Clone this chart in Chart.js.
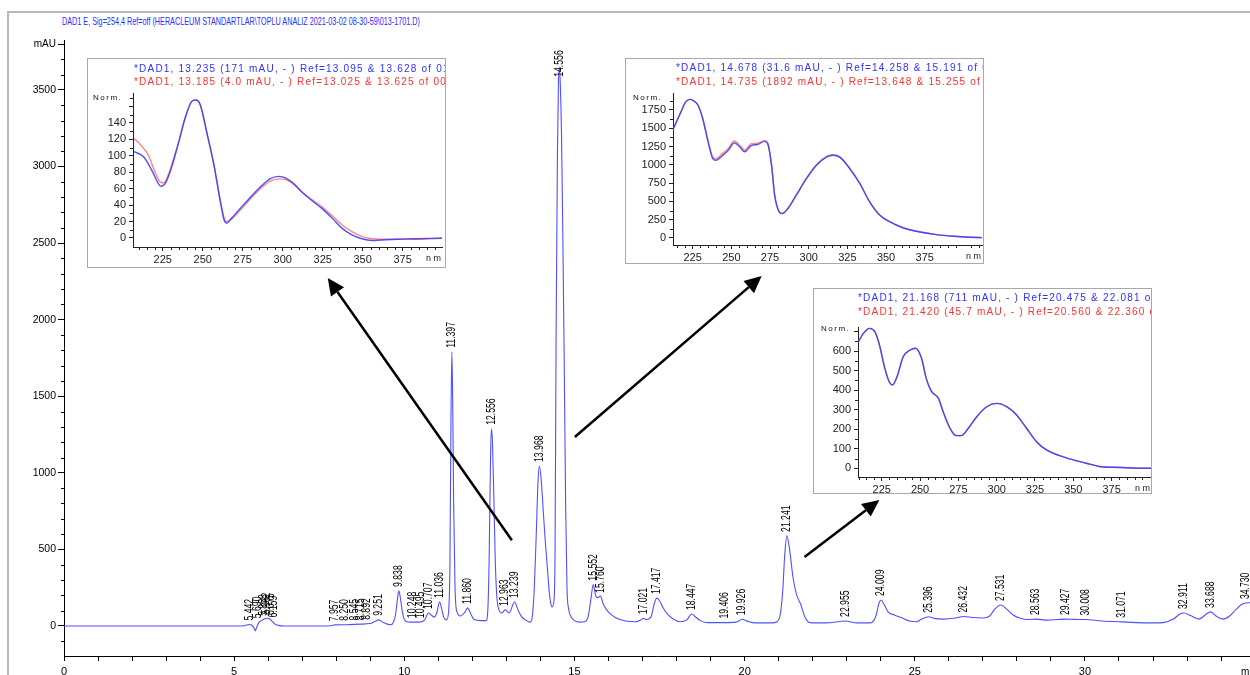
<!DOCTYPE html>
<html>
<head>
<meta charset="utf-8">
<script src="https://cdn.jsdelivr.net/npm/chart.js@4.4.1/dist/chart.umd.min.js"></script>
<style>
  html, body { margin: 0; padding: 0; background: #fff; }
  #wrap { position: relative; width: 1250px; height: 675px; overflow: hidden; font-family: "Liberation Sans", Arial, sans-serif; }
  #frame { position: absolute; left: 7px; top: 11px; width: 1260px; height: 680px; border-left: 2px solid #b8b8b8; border-top: 2px solid #b8b8b8; }
  #title { position: absolute; left: 62px; top: 15px; font-size: 11px; line-height: 12px; color: #2b2bff; white-space: nowrap; transform-origin: 0 0; }
  #main { position: absolute; left: 0; top: 0; }
  .inset { position: absolute; background: #fff; border: 1px solid #a8a8a8; overflow: hidden; }
  .inset canvas { position: absolute; left: 0; top: 0; }
  .spec { position: absolute; font-size: 10px; line-height: 12px; letter-spacing: 1.2px; white-space: nowrap; }
  .blue { color: #3030ff; }
  .red { color: #ff3030; }
  .norm { position: absolute; font-size: 8px; line-height: 10px; letter-spacing: 1.5px; color: #111; }
</style>
</head>
<body>
<div id="wrap">
  <div id="frame"></div>
  <div id="title">DAD1 E, Sig=254,4 Ref=off (HERACLEUM STANDARTLAR\TOPLU ANALIZ 2021-03-02 08-30-59\013-1701.D)</div>
  <canvas id="main" width="1250" height="675"></canvas>

  <div class="inset" style="left:87px; top:58px; width:357px; height:208px;">
    <canvas id="spec1" width="357" height="208"></canvas>
    <div class="spec blue" style="left:46px; top:4px;">*DAD1, 13.235 (171 mAU, - ) Ref=13.095 &amp; 13.628 of 01</div>
    <div class="spec red" style="left:46px; top:17px;">*DAD1, 13.185 (4.0 mAU, - ) Ref=13.025 &amp; 13.625 of 00</div>
    <div class="norm" style="left:5px; top:34px;">Norm.</div>
  </div>

  <div class="inset" style="left:625px; top:58px; width:357px; height:204px;">
    <canvas id="spec2" width="357" height="204"></canvas>
    <div class="spec blue" style="left:50px; top:3px;">*DAD1, 14.678 (31.6 mAU, - ) Ref=14.258 &amp; 15.191 of 00</div>
    <div class="spec red" style="left:50px; top:17px;">*DAD1, 14.735 (1892 mAU, - ) Ref=13.648 &amp; 15.255 of 00</div>
    <div class="norm" style="left:7px; top:34px;">Norm.</div>
  </div>

  <div class="inset" style="left:813px; top:288px; width:337px; height:204px;">
    <canvas id="spec3" width="337" height="204"></canvas>
    <div class="spec blue" style="left:44px; top:3px;">*DAD1, 21.168 (711 mAU, - ) Ref=20.475 &amp; 22.081 of 01</div>
    <div class="spec red" style="left:44px; top:17px;">*DAD1, 21.420 (45.7 mAU, - ) Ref=20.560 &amp; 22.360 of 00</div>
    <div class="norm" style="left:7px; top:35px;">Norm.</div>
  </div>
</div>

<script>
// chromatogram, retention time (min) and signal (mAU)
const rtMin = [0, 5.0, 5.3, 5.442, 5.52, 5.58, 5.62, 5.66, 5.72, 5.80, 5.88, 5.96, 6.05, 6.12, 6.20, 6.30, 6.45,
  7.0, 7.85, 7.95, 8.3, 8.7, 9.0, 9.12, 9.251, 9.38, 9.50, 9.60, 9.68, 9.74, 9.79, 9.838, 9.88, 9.93, 9.98,
  10.05, 10.2, 10.45, 10.6, 10.707, 10.80, 10.88, 10.96, 11.036, 11.10, 11.16, 11.24, 11.30, 11.34, 11.37,
  11.397, 11.42, 11.45, 11.49, 11.55, 11.65, 11.78, 11.860, 11.95, 12.05, 12.25, 12.40, 12.45, 12.49, 12.53,
  12.556, 12.59, 12.63, 12.67, 12.71, 12.76, 12.87, 12.963, 13.08, 13.239, 13.35, 13.45, 13.56, 13.70, 13.76,
  13.82, 13.88, 13.93, 13.968, 14.02, 14.08, 14.14, 14.20, 14.26, 14.31, 14.34, 14.40, 14.43, 14.46, 14.50,
  14.53, 14.556, 14.58, 14.62, 14.66, 14.70, 14.74, 14.78, 14.83, 14.90, 15.00, 15.15, 15.30, 15.40, 15.48,
  15.552, 15.62, 15.68, 15.760, 15.85, 16.00, 16.20, 16.50, 16.80, 16.95, 17.021, 17.12, 17.25, 17.35, 17.417,
  17.50, 17.60, 17.72, 17.90, 18.10, 18.30, 18.447, 18.55, 18.70, 18.90, 19.406, 19.75, 19.926, 20.10, 20.30,
  20.80, 20.95, 21.05, 21.12, 21.18, 21.241, 21.32, 21.42, 21.52, 21.65, 21.78, 21.92, 22.4, 22.955, 23.3,
  23.7, 23.85, 23.95, 24.009, 24.10, 24.22, 24.40, 24.60, 24.85, 25.05, 25.20, 25.396, 25.60, 25.85, 26.20,
  26.432, 26.70, 27.00, 27.20, 27.35, 27.531, 27.70, 27.90, 28.10, 28.30, 28.563, 28.90, 29.20, 29.427, 29.70,
  30.008, 30.50, 31.071, 31.50, 32.00, 32.30, 32.60, 32.80, 32.911, 33.10, 33.35, 33.55, 33.688, 33.85, 34.05,
  34.25, 34.45, 34.60, 34.730, 34.85];
const signal = [0, 0, 2, 10, 5, -12, -30, -10, 20, 35, 45, 50, 45, 30, 12, 4, 0,
  0, 2, 7, 8, 12, 16, 28, 40, 22, 12, 8, 25, 70, 160, 229, 190, 110, 55,
  30, 25, 25, 40, 85, 70, 58, 90, 157, 110, 55, 40, 90, 400, 1300,
  1790, 1500, 800, 250, 90, 65, 90, 118, 80, 42, 35, 35, 90, 400, 1050,
  1287, 1200, 850, 450, 220, 120, 85, 105, 85, 157, 100, 60, 40, 25, 60,
  250, 620, 950, 1045, 960, 760, 560, 390, 220, 140, 125, 170, 500, 1900, 3100,
  3560, 3650, 3560, 3200, 2500, 1700, 800, 250, 110, 60, 35, 25, 28, 60, 170,
  270, 200, 185, 195, 140, 90, 55, 32, 28, 40, 50, 42, 60, 150, 182,
  165, 120, 80, 45, 28, 40, 78, 60, 35, 22, 22, 25, 44, 30, 20,
  20, 28, 80, 230, 470, 588, 500, 320, 210, 140, 55, 22, 20, 33, 20,
  20, 60, 150, 170, 140, 90, 72, 55, 32, 28, 45, 60, 48, 45, 52,
  62, 55, 52, 65, 110, 137, 110, 70, 50, 42, 45, 38, 42, 45, 43,
  42, 33, 27, 22, 20, 22, 45, 80, 85, 68, 45, 75, 92, 65, 45,
  65, 110, 140, 150, 152];

// retention time labels and the signal level they sit on
const peakLabels = ['5.442', '5.690', '5.858', '5.962', '6.075', '6.159', '7.957', '8.250', '8.545', '8.715', '8.892',
  '9.251', '9.838', '10.248', '10.495', '10.707', '11.036', '11.397', '11.860', '12.556', '12.963', '13.239',
  '13.968', '14.556', '15.552', '15.760', '17.021', '17.417', '18.447', '19.406', '19.926', '21.241', '22.955',
  '24.009', '25.396', '26.432', '27.531', '28.563', '29.427', '30.008', '31.071', '32.911', '33.688', '34.730'];
const peakLevels = [10, 25, 40, 50, 45, 30, 5, 8, 10, 12, 14,
  40, 229, 25, 25, 85, 157, 1790, 118, 1287, 105, 157,
  1045, 3560, 270, 190, 50, 182, 78, 22, 44, 588, 33,
  170, 60, 62, 137, 45, 45, 42, 27, 85, 92, 150];

const yTicksMain = [0, 500, 1000, 1500, 2000, 2500, 3000, 3500];
const xTicksMain = [0, 1, 2, 3, 4, 5, 6, 7, 8, 9, 10, 11, 12, 13, 14, 15, 16, 17, 18, 19, 20, 21, 22, 23, 24, 25,
  26, 27, 28, 29, 30, 31, 32, 33, 34];

// arrows from peaks to the spectra (min, mAU)
const arrowStartT = [13.16, 15.01, 21.76];
const arrowStartV = [560, 1234, 450];
const arrowEndT = [7.75, 20.50, 23.96];
const arrowEndV = [2272, 2285, 823];

// UV spectra (nm, Norm.)
const nmTicks = [225, 250, 275, 300, 325, 350, 375];

const spec1BlueNm = [207, 213, 218, 223, 224, 227, 231, 235, 239, 243, 245.5, 248.5, 252.5, 257, 261, 263.5, 265, 268,
  273.5, 280, 286, 292, 297.5, 302, 307, 312, 318, 324.5, 331, 337, 343, 349.5, 356, 361, 371.5, 382, 392, 400];
const spec1Blue = [105, 99, 83, 64, 63, 68, 89, 117, 146, 166, 168, 162, 129, 89, 44, 21, 18, 24,
  36, 50, 62, 72, 75, 73, 66, 56, 46, 36, 24, 12, 4, -1, -3, -2.5, -1.5, -1, -0.5, 0];
const spec1RedNm = [207, 210, 213, 216, 220, 223, 225.5, 228.5, 232.5, 235, 239, 243, 245.5, 248.5, 252.5, 257, 261,
  263.5, 265, 268, 273.5, 280, 286, 292, 297.5, 302, 307, 312, 318, 324.5, 331, 337, 343, 349.5, 356, 361, 371.5,
  382, 392, 400];
const spec1Red = [121, 116, 109, 101, 81, 69, 67, 77, 101, 117, 146, 166, 168, 162, 128, 89, 46,
  24, 20, 23, 34, 48, 60, 69, 72, 71, 65, 56, 47, 38, 27, 16, 8, 2, -1, -1.5, -1.5,
  -1.5, -1, -0.5];
const spec1YTicks = [0, 20, 40, 60, 80, 100, 120, 140, 160];

const spec2Nm = [212, 215, 218, 220.5, 223.5, 226, 228.5, 231.5, 235, 238, 240, 244.5, 248, 252, 255.5, 258.5, 263,
  267, 271.5, 273.5, 276, 278, 281, 283, 286.5, 292, 298.5, 305, 311.5, 315.5, 320, 326.5, 333, 339.5, 346, 352.5,
  361, 372, 382.5, 393.5, 404, 412];
const spec2Blue = [1470, 1610, 1750, 1860, 1895, 1870, 1815, 1630, 1310, 1085, 1062, 1130, 1200, 1300, 1245, 1178, 1265,
  1278, 1320, 1290, 990, 585, 355, 333, 400, 585, 810, 995, 1105, 1130, 1105, 950, 745, 490, 310, 220,
  140, 82, 46, 23, 9, 5];
const spec2Red = [1470, 1610, 1750, 1860, 1895, 1870, 1815, 1640, 1330, 1105, 1085, 1160, 1225, 1325, 1265, 1200, 1290,
  1295, 1335, 1300, 1000, 590, 360, 338, 405, 590, 815, 1000, 1115, 1140, 1112, 952, 745, 490, 310, 220,
  140, 82, 46, 23, 9, 5];
const spec2YTicks = [0, 250, 500, 750, 1000, 1250, 1500, 1750];

const spec3Nm = [209.5, 213, 217, 220.5, 223.5, 227, 230, 232, 235, 239, 243.5, 247, 251, 254, 257.5, 262, 265, 269.5,
  273.5, 277, 281.5, 287, 293.5, 300, 306.5, 313, 319.5, 326, 332.5, 341, 350, 358.5, 367, 376, 385, 395.5, 400.7];
const spec3Blue = [644, 690, 716, 699, 631, 511, 440, 426, 469, 571, 605, 614, 562, 460, 392, 358, 290, 205,
  167, 167, 205, 264, 315, 332, 315, 273, 205, 136, 94, 65, 43, 26, 9, 5, 3, 0, 0];
const spec3Red = [644, 690, 716, 699, 631, 512, 441, 427, 470, 571, 605, 614, 563, 461, 393, 358, 290, 206,
  168, 168, 205, 264, 315, 332, 315, 273, 205, 136, 94, 65, 43, 26, 9, 5, 3, 0, 0];
const spec3YTicks = [0, 100, 200, 300, 400, 500, 600, 700];

const FONT = '"Liberation Sans", Arial, sans-serif';
const toPoints = (xs, ys) => xs.map((v, i) => ({ x: v, y: ys[i] }));

const chromExtras = {
  id: 'chromExtras',
  afterDatasetsDraw(chart) {
    const { ctx, scales: { x, y } } = chart;
    ctx.save();
    // retention time labels
    ctx.font = '12px ' + FONT;
    ctx.fillStyle = '#000';
    ctx.textAlign = 'left';
    ctx.textBaseline = 'middle';
    peakLabels.forEach((name, i) => {
      ctx.save();
      ctx.translate(x.getPixelForValue(parseFloat(name)), y.getPixelForValue(peakLevels[i]) - 4);
      ctx.rotate(-Math.PI / 2);
      ctx.scale(0.72, 1);
      ctx.fillText(name, 0, 0);
      ctx.restore();
    });
    // arrows
    ctx.strokeStyle = '#000';
    ctx.lineWidth = 2.5;
    for (let i = 0; i < arrowStartT.length; i++) {
      const x0 = x.getPixelForValue(arrowStartT[i]), y0 = y.getPixelForValue(arrowStartV[i]);
      const x1 = x.getPixelForValue(arrowEndT[i]), y1 = y.getPixelForValue(arrowEndV[i]);
      const ang = Math.atan2(y1 - y0, x1 - x0);
      const len = 17, half = 8;
      const bx = x1 - len * Math.cos(ang), by = y1 - len * Math.sin(ang);
      ctx.beginPath();
      ctx.moveTo(x0, y0);
      ctx.lineTo(bx, by);
      ctx.stroke();
      ctx.beginPath();
      ctx.moveTo(x1, y1);
      ctx.lineTo(bx + half * Math.sin(ang), by - half * Math.cos(ang));
      ctx.lineTo(bx - half * Math.sin(ang), by + half * Math.cos(ang));
      ctx.closePath();
      ctx.fill();
    }
    ctx.restore();
  },
  afterDraw(chart) {
    const { ctx, chartArea: a, scales: { y } } = chart;
    ctx.save();
    ctx.strokeStyle = '#000';
    ctx.lineWidth = 1;
    ctx.beginPath();
    for (let v = -100; v <= 3800; v += 100) {
      if (v % 500 === 0) continue;
      const py = Math.round(y.getPixelForValue(v)) + 0.5;
      ctx.moveTo(a.left - 3, py);
      ctx.lineTo(a.left, py);
    }
    ctx.moveTo(a.left - 6, a.top + 4.5);
    ctx.lineTo(a.left, a.top + 4.5);
    ctx.stroke();
    ctx.fillStyle = '#000';
    ctx.font = '10px ' + FONT;
    ctx.textBaseline = 'middle';
    ctx.textAlign = 'right';
    ctx.fillText('mAU', a.left - 8, a.top + 4);
    ctx.textAlign = 'left';
    ctx.fillText('min', a.right - 9, a.bottom + 16);
    ctx.restore();
  }
};

new Chart(document.getElementById('main'), {
  type: 'line',
  data: {
    datasets: [{
      data: toPoints(rtMin, signal),
      borderColor: 'rgb(80, 80, 255)',
      borderWidth: 1.1,
      pointRadius: 0,
      cubicInterpolationMode: 'monotone'
    }]
  },
  options: {
    animation: false,
    responsive: false,
    events: [],
    layout: { padding: { top: 40, left: 0, right: 0, bottom: 0 }, autoPadding: false },
    plugins: { legend: { display: false }, tooltip: { enabled: false } },
    scales: {
      x: {
        type: 'linear', min: 0, max: 34.85,
        afterFit: s => { s.height = 19; },
        afterBuildTicks: s => { s.ticks = xTicksMain.map(v => ({ value: v })); },
        grid: { drawOnChartArea: false, tickLength: 5, color: '#000' },
        border: { color: '#000' },
        ticks: {
          autoSkip: false, maxRotation: 0, padding: 4, color: '#000', font: { family: FONT, size: 11 },
          callback: v => (v % 5 === 0 ? String(v) : '')
        }
      },
      y: {
        type: 'linear', min: -196, max: 3826,
        afterFit: s => { s.width = 64; },
        afterBuildTicks: s => { s.ticks = yTicksMain.map(v => ({ value: v })); },
        grid: { drawOnChartArea: false, tickLength: 6, color: '#000' },
        border: { color: '#000' },
        ticks: { padding: 2, color: '#000', font: { family: FONT, size: 10.5 }, callback: v => String(v) }
      }
    }
  },
  plugins: [chromExtras]
});

function makeSpectrum(id, o) {
  const extras = {
    id: 'specExtras',
    afterDraw(chart) {
      const { ctx, chartArea: a, scales: { x, y } } = chart;
      ctx.save();
      ctx.strokeStyle = '#222';
      ctx.lineWidth = 1;
      ctx.beginPath();
      for (let v = Math.ceil(o.xmin / 5) * 5; v <= o.xmax; v += 5) {
        if (v % 25 === 0) continue;
        const px = Math.round(x.getPixelForValue(v)) + 0.5;
        ctx.moveTo(px, a.bottom);
        ctx.lineTo(px, a.bottom + 3);
      }
      for (let v = o.yMinor; v <= o.ymax; v += o.yMinor) {
        if (v % o.yStep === 0) continue;
        const py = Math.round(y.getPixelForValue(v)) + 0.5;
        ctx.moveTo(a.left - 3, py);
        ctx.lineTo(a.left, py);
      }
      ctx.stroke();
      ctx.fillStyle = '#222';
      ctx.font = '9px ' + FONT;
      ctx.textAlign = 'right';
      ctx.textBaseline = 'middle';
      ctx.fillText('n m', a.right - 1, a.bottom + 12);
      ctx.restore();
    }
  };
  new Chart(document.getElementById(id), {
    type: 'line',
    data: {
      datasets: [
        { data: toPoints(o.blueNm, o.blue), borderColor: 'rgba(60, 60, 255, 0.9)', borderWidth: 1.4, pointRadius: 0, cubicInterpolationMode: 'monotone' },
        { data: toPoints(o.redNm, o.red), borderColor: 'rgba(255, 50, 50, 0.6)', borderWidth: 1.4, pointRadius: 0, cubicInterpolationMode: 'monotone' }
      ]
    },
    options: {
      animation: false,
      responsive: false,
      events: [],
      layout: { padding: { top: o.top, right: o.right, left: 0, bottom: 0 }, autoPadding: false },
      plugins: { legend: { display: false }, tooltip: { enabled: false } },
      scales: {
        x: {
          type: 'linear', min: o.xmin, max: o.xmax,
          afterFit: s => { s.height = o.xh; },
          afterBuildTicks: s => { s.ticks = nmTicks.map(v => ({ value: v })); },
          grid: { drawOnChartArea: false, tickLength: 4, color: '#222' },
          border: { color: '#222' },
          ticks: { autoSkip: false, maxRotation: 0, padding: 2, color: '#222', font: { family: FONT, size: 11 } }
        },
        y: {
          type: 'linear', min: o.ymin, max: o.ymax,
          afterFit: s => { s.width = o.yw; },
          afterBuildTicks: s => { s.ticks = o.yTicks.map(v => ({ value: v })); },
          grid: { drawOnChartArea: false, tickLength: 4, color: '#222' },
          border: { color: '#222' },
          ticks: { padding: 3, color: '#222', font: { family: FONT, size: 11 }, callback: v => (v <= o.yLabelMax ? String(v) : '') }
        }
      }
    },
    plugins: [extras]
  });
}

makeSpectrum('spec1', {
  blueNm: spec1BlueNm, blue: spec1Blue, redNm: spec1RedNm, red: spec1Red,
  xmin: 206.4, xmax: 399.6, ymin: -11, ymax: 176.5, yTicks: spec1YTicks, yLabelMax: 140, yStep: 20, yMinor: 10,
  top: 34, right: 3, xh: 20, yw: 45
});
makeSpectrum('spec2', {
  blueNm: spec2Nm, blue: spec2Blue, redNm: spec2Nm, red: spec2Red,
  xmin: 212.3, xmax: 412, ymin: -96, ymax: 1982, yTicks: spec2YTicks, yLabelMax: 1750, yStep: 250, yMinor: 125,
  top: 34, right: 1, xh: 18, yw: 47
});
makeSpectrum('spec3', {
  blueNm: spec3Nm, blue: spec3Blue, redNm: spec3Nm, red: spec3Red,
  xmin: 209.5, xmax: 400.7, ymin: -44.5, ymax: 722.8, yTicks: spec3YTicks, yLabelMax: 600, yStep: 100, yMinor: 50,
  top: 38, right: 0, xh: 16, yw: 44
});

const title = document.getElementById('title');
title.style.transform = 'scaleX(' + (358 / title.offsetWidth) + ')';
</script>
</body>
</html>
